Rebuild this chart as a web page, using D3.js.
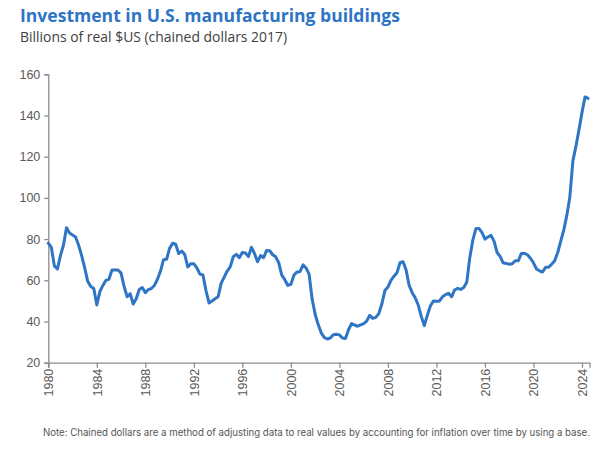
<!DOCTYPE html>
<html>
<head>
<meta charset="utf-8">
<script src="https://cdn.jsdelivr.net/npm/d3@7"></script>
<style>
  html, body { margin: 0; padding: 0; background: #fff; }
  svg { display: block; }
</style>
</head>
<body>
<svg id="chart" width="605" height="452"></svg>
<script>
// ---- Data (quarterly, billions of chained 2017 $US) ----
const startYear = 1980;
const values = [
  78, 76, 67, 65.5,        // 1980
  72, 77, 85.5, 83,        // 1981
  82, 81, 77, 72,          // 1982
  66, 59.5, 57, 56,        // 1983
  48, 54.5, 57.5, 60,      // 1984
  60.5, 65, 65, 65,        // 1985
  63.5, 57, 52, 53.5,      // 1986
  48.5, 51, 55.5, 56.5,    // 1987
  54, 55.5, 56, 57.5,      // 1988
  60.5, 64.5, 70, 70.2,    // 1989
  75.5, 78, 77.5, 73,      // 1990
  74.2, 72.5, 66.5, 68,    // 1991
  68, 66, 63, 62.6,        // 1992
  55, 49, 50, 51,          // 1993
  52, 58.5, 61.5, 64.5,    // 1994
  66.5, 71.5, 72.6, 71,    // 1995
  73.5, 73.3, 71.5, 76,    // 1996
  73, 69, 72, 71,          // 1997
  74.5, 74.4, 72.4, 71.4,  // 1998
  68.5, 62.5, 60.3, 57.5,  // 1999
  58, 62.5, 64, 64.2,      // 2000
  67.5, 66, 63, 51,        // 2001
  43.5, 38.5, 34.5, 32.3,  // 2002
  31.5, 32, 33.6, 33.8,    // 2003
  33.5, 32, 31.8, 36,      // 2004
  39, 38.3, 37.7, 38.4,    // 2005
  39, 40.2, 43, 41.5,      // 2006
  42, 43.8, 48.5, 55,      // 2007
  56.7, 60, 62, 63.7,      // 2008
  68.5, 69, 65, 57.5,      // 2009
  54, 51.5, 48, 42.5,      // 2010
  38, 43, 47.5, 50,        // 2011
  49.8, 50, 52, 53,        // 2012
  53.7, 52, 55.3, 56.1,    // 2013
  55.6, 56.5, 59, 71,      // 2014
  79.5, 85, 85.2, 83.3,    // 2015
  80, 81, 81.8, 79,        // 2016
  73.5, 71.6, 68.5, 68.2,  // 2017
  67.8, 68, 69.5, 69.5,    // 2018
  73, 73.1, 72.4, 70.7,    // 2019
  68.5, 65.5, 64.6, 64,    // 2020
  66.3, 66.3, 67.8, 69.5,  // 2021
  73.5, 79, 84.5, 91.5,    // 2022
  100.5, 118, 125, 133,    // 2023
  141.5, 149, 148.3        // 2024
];
const data = values.map((v, i) => ({ t: startYear + i / 4, v }));

const yTicks = [20, 40, 60, 80, 100, 120, 140, 160];
const xTicks = [1980, 1984, 1988, 1992, 1996, 2000, 2004, 2008, 2012, 2016, 2020, 2024];

const titleText = "Investment in U.S. manufacturing buildings";
const subtitleText = "Billions of real $US (chained dollars 2017)";
const noteText = "Note: Chained dollars are a method of adjusting data to real values by accounting for inflation over time by using a base.";

// ---- Layout ----
const svg = d3.select("#chart");
const margin = { left: 48.3, right: 605 - 589.5, top: 74.3, bottom: 452 - 362.7 };
const W = 605, H = 452;

const x = d3.scaleLinear().domain([1980, 2024.62]).range([margin.left, W - margin.right]);
const y = d3.scaleLinear().domain([20, 160]).range([H - margin.bottom, margin.top]);

const axisColor = "#8c8c8c";
const labelColor = "#595959";

// Title & subtitle
svg.append("text")
  .attr("x", 20).attr("y", 22)
  .attr("font-family", "'Open Sans', sans-serif")
  .attr("font-weight", 700)
  .attr("font-size", 18.5)
  .attr("fill", "#2E74C5")
  .attr("textLength", 380)
  .attr("lengthAdjust", "spacingAndGlyphs")
  .text(titleText);

svg.append("text")
  .attr("x", 20).attr("y", 42)
  .attr("font-family", "'Open Sans', sans-serif")
  .attr("font-size", 14)
  .attr("fill", "#404040")
  .attr("textLength", 267)
  .attr("lengthAdjust", "spacingAndGlyphs")
  .text(subtitleText);

// Y axis
const yAxis = d3.axisLeft(y).tickValues(yTicks).tickSize(4).tickPadding(4);
const gy = svg.append("g").attr("transform", `translate(${margin.left},0)`).call(yAxis);
gy.select(".domain").attr("stroke", axisColor).attr("stroke-width", 1.3);
gy.selectAll(".tick line").attr("stroke", axisColor).attr("stroke-width", 1.3);
gy.selectAll(".tick text")
  .attr("font-family", "Arial, 'Liberation Sans', sans-serif")
  .attr("font-size", 12.5)
  .attr("fill", labelColor);

// X axis
const xAxis = d3.axisBottom(x).tickValues(xTicks).tickFormat(d3.format("d")).tickSize(5).tickPadding(4);
const gx = svg.append("g").attr("transform", `translate(0,${H - margin.bottom})`).call(xAxis);
gx.select(".domain").attr("stroke", axisColor).attr("stroke-width", 1.3);
gx.selectAll(".tick line").attr("stroke", axisColor).attr("stroke-width", 1.3);
gx.selectAll(".tick text")
  .attr("font-family", "Arial, 'Liberation Sans', sans-serif")
  .attr("font-size", 12.5)
  .attr("fill", labelColor)
  .attr("transform", "rotate(-90)")
  .attr("text-anchor", "end")
  .attr("x", -6)
  .attr("y", 0)
  .attr("dy", "0.35em");

// Line
const line = d3.line().x(d => x(d.t)).y(d => y(d.v)).curve(d3.curveLinear);
svg.append("path")
  .datum(data)
  .attr("fill", "none")
  .attr("stroke", "#2E75C6")
  .attr("stroke-width", 3)
  .attr("stroke-linejoin", "round")
  .attr("stroke-linecap", "round")
  .attr("d", line);

// Note
svg.append("text")
  .attr("x", 43).attr("y", 436)
  .attr("font-family", "'Inter', sans-serif")
  .attr("font-size", 9.8)
  .attr("fill", "#555")
  .attr("textLength", 547)
  .attr("lengthAdjust", "spacingAndGlyphs")
  .text(noteText);
</script>
</body>
</html>
